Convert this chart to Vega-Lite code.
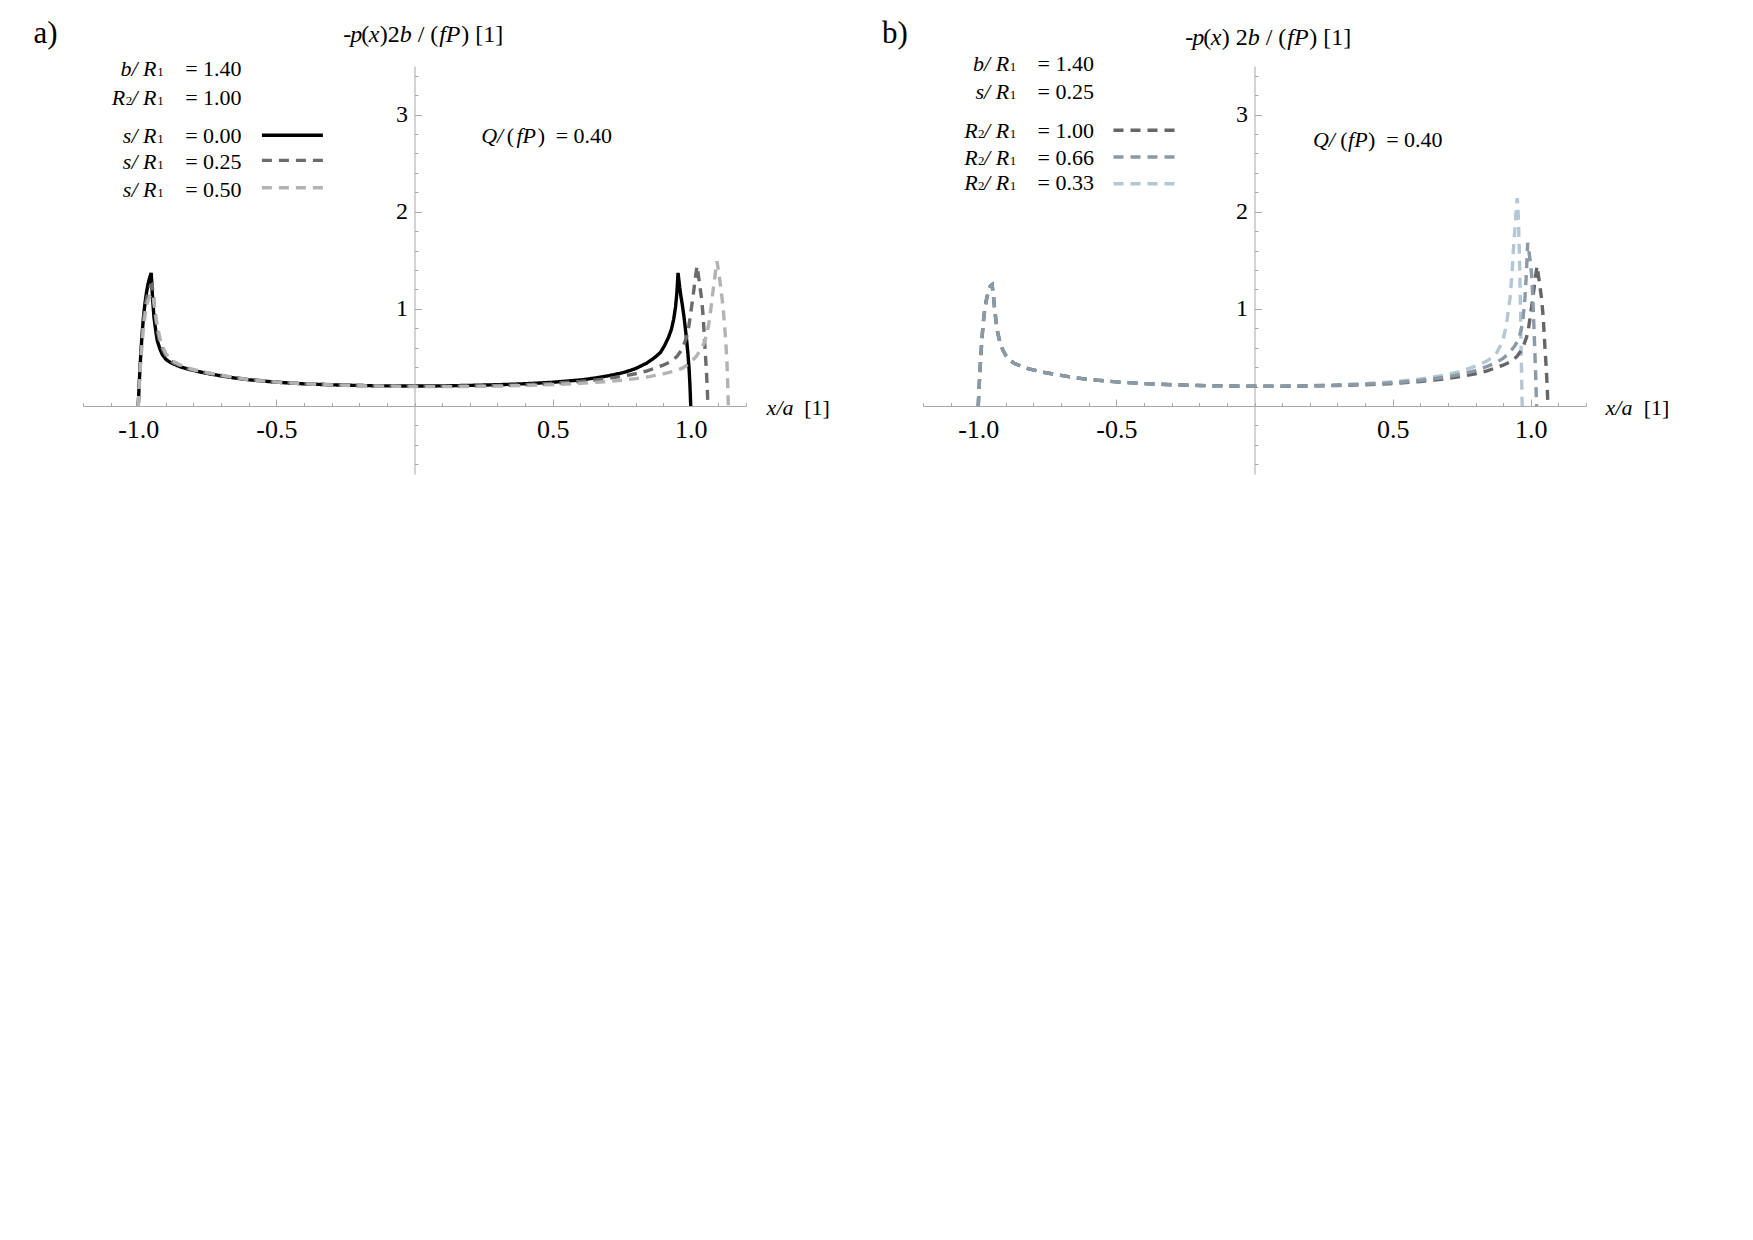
{
"$schema": "https://vega.github.io/schema/vega-lite/v6.json",
"background": "white",
"padding": {"left": 33, "top": 17, "right": 10, "bottom": 10},
"spacing": 177,
"bounds": "flush",
"resolve": {"scale": {"color": "independent", "strokeDash": "independent"}},
"config": {"view": {"stroke": null}, "font": "Liberation Serif", "axis": {"grid": false, "domainColor": "#a8a8a8", "tickColor": "#a8a8a8", "labelFont": "Liberation Serif", "labelColor": "#000000", "labelFontSize": 22, "title": null, "labelOverlap": false, "labelFlush": false}},
"hconcat": [
{
 "width": 663, "height": 408,
 "resolve": {"axis": {"x": "independent", "y": "independent"}},
 "layer": [
  {"data": {"values": [
{"s":"0.00","x":-1,"y":0},{"s":"0.00","x":-0.997,"y":0.2},{"s":"0.00","x":-0.993,"y":0.42},{"s":"0.00","x":-0.99,"y":0.57},{"s":"0.00","x":-0.985,"y":0.78},{"s":"0.00","x":-0.98,"y":0.95},{"s":"0.00","x":-0.975,"y":1.07},{"s":"0.00","x":-0.97,"y":1.17},{"s":"0.00","x":-0.965,"y":1.25},{"s":"0.00","x":-0.96,"y":1.31},{"s":"0.00","x":-0.953,"y":1.37},{"s":"0.00","x":-0.948,"y":1.1},{"s":"0.00","x":-0.943,"y":0.91},{"s":"0.00","x":-0.937,"y":0.78},{"s":"0.00","x":-0.931,"y":0.67},{"s":"0.00","x":-0.922,"y":0.59},{"s":"0.00","x":-0.913,"y":0.53},{"s":"0.00","x":-0.9,"y":0.48},{"s":"0.00","x":-0.885,"y":0.45},{"s":"0.00","x":-0.87,"y":0.43},{"s":"0.00","x":-0.845,"y":0.4},{"s":"0.00","x":-0.82,"y":0.38},{"s":"0.00","x":-0.79,"y":0.36},{"s":"0.00","x":-0.76,"y":0.34},{"s":"0.00","x":-0.7,"y":0.31},{"s":"0.00","x":-0.65,"y":0.288},{"s":"0.00","x":-0.6,"y":0.27},{"s":"0.00","x":-0.5,"y":0.245},{"s":"0.00","x":-0.4,"y":0.228},{"s":"0.00","x":-0.3,"y":0.218},{"s":"0.00","x":-0.2,"y":0.211},{"s":"0.00","x":-0.1,"y":0.207},{"s":"0.00","x":0,"y":0.205},{"s":"0.00","x":0.1,"y":0.207},{"s":"0.00","x":0.2,"y":0.212},{"s":"0.00","x":0.3,"y":0.219},{"s":"0.00","x":0.4,"y":0.229},{"s":"0.00","x":0.5,"y":0.244},{"s":"0.00","x":0.6,"y":0.268},{"s":"0.00","x":0.65,"y":0.286},{"s":"0.00","x":0.7,"y":0.31},{"s":"0.00","x":0.75,"y":0.34},{"s":"0.00","x":0.78,"y":0.365},{"s":"0.00","x":0.8,"y":0.385},{"s":"0.00","x":0.84,"y":0.44},{"s":"0.00","x":0.87,"y":0.5},{"s":"0.00","x":0.89,"y":0.55},{"s":"0.00","x":0.905,"y":0.62},{"s":"0.00","x":0.92,"y":0.71},{"s":"0.00","x":0.93,"y":0.79},{"s":"0.00","x":0.938,"y":0.89},{"s":"0.00","x":0.945,"y":1.02},{"s":"0.00","x":0.95,"y":1.17},{"s":"0.00","x":0.954,"y":1.37},{"s":"0.00","x":0.96,"y":1.22},{"s":"0.00","x":0.965,"y":1.12},{"s":"0.00","x":0.97,"y":1.03},{"s":"0.00","x":0.975,"y":0.93},{"s":"0.00","x":0.98,"y":0.81},{"s":"0.00","x":0.985,"y":0.68},{"s":"0.00","x":0.99,"y":0.53},{"s":"0.00","x":0.994,"y":0.38},{"s":"0.00","x":0.997,"y":0.22},{"s":"0.00","x":1,"y":0},
{"s":"0.25","x":-1,"y":0},{"s":"0.25","x":-0.997,"y":0.19},{"s":"0.25","x":-0.993,"y":0.4},{"s":"0.25","x":-0.99,"y":0.55},{"s":"0.25","x":-0.985,"y":0.75},{"s":"0.25","x":-0.98,"y":0.91},{"s":"0.25","x":-0.975,"y":1.02},{"s":"0.25","x":-0.97,"y":1.1},{"s":"0.25","x":-0.965,"y":1.16},{"s":"0.25","x":-0.96,"y":1.21},{"s":"0.25","x":-0.955,"y":1.24},{"s":"0.25","x":-0.95,"y":1.25},{"s":"0.25","x":-0.945,"y":1.13},{"s":"0.25","x":-0.94,"y":0.98},{"s":"0.25","x":-0.935,"y":0.86},{"s":"0.25","x":-0.93,"y":0.76},{"s":"0.25","x":-0.92,"y":0.64},{"s":"0.25","x":-0.91,"y":0.57},{"s":"0.25","x":-0.9,"y":0.52},{"s":"0.25","x":-0.885,"y":0.47},{"s":"0.25","x":-0.87,"y":0.44},{"s":"0.25","x":-0.845,"y":0.41},{"s":"0.25","x":-0.82,"y":0.385},{"s":"0.25","x":-0.79,"y":0.365},{"s":"0.25","x":-0.76,"y":0.345},{"s":"0.25","x":-0.7,"y":0.315},{"s":"0.25","x":-0.65,"y":0.292},{"s":"0.25","x":-0.6,"y":0.273},{"s":"0.25","x":-0.5,"y":0.248},{"s":"0.25","x":-0.4,"y":0.231},{"s":"0.25","x":-0.3,"y":0.219},{"s":"0.25","x":-0.2,"y":0.211},{"s":"0.25","x":-0.1,"y":0.206},{"s":"0.25","x":0,"y":0.203},{"s":"0.25","x":0.1,"y":0.203},{"s":"0.25","x":0.2,"y":0.206},{"s":"0.25","x":0.3,"y":0.211},{"s":"0.25","x":0.4,"y":0.219},{"s":"0.25","x":0.5,"y":0.232},{"s":"0.25","x":0.6,"y":0.252},{"s":"0.25","x":0.65,"y":0.266},{"s":"0.25","x":0.7,"y":0.283},{"s":"0.25","x":0.75,"y":0.305},{"s":"0.25","x":0.8,"y":0.332},{"s":"0.25","x":0.84,"y":0.36},{"s":"0.25","x":0.87,"y":0.39},{"s":"0.25","x":0.9,"y":0.42},{"s":"0.25","x":0.93,"y":0.46},{"s":"0.25","x":0.95,"y":0.51},{"s":"0.25","x":0.965,"y":0.57},{"s":"0.25","x":0.975,"y":0.63},{"s":"0.25","x":0.985,"y":0.71},{"s":"0.25","x":0.993,"y":0.82},{"s":"0.25","x":1,"y":0.96},{"s":"0.25","x":1.007,"y":1.1},{"s":"0.25","x":1.014,"y":1.26},{"s":"0.25","x":1.019,"y":1.37},{"s":"0.25","x":1.023,"y":1.44},{"s":"0.25","x":1.03,"y":1.3},{"s":"0.25","x":1.039,"y":1.11},{"s":"0.25","x":1.045,"y":0.92},{"s":"0.25","x":1.051,"y":0.62},{"s":"0.25","x":1.057,"y":0.35},{"s":"0.25","x":1.061,"y":0.1},{"s":"0.25","x":1.062,"y":0},
{"s":"0.50","x":-1,"y":0},{"s":"0.50","x":-0.997,"y":0.18},{"s":"0.50","x":-0.993,"y":0.37},{"s":"0.50","x":-0.99,"y":0.5},{"s":"0.50","x":-0.985,"y":0.68},{"s":"0.50","x":-0.98,"y":0.83},{"s":"0.50","x":-0.975,"y":0.94},{"s":"0.50","x":-0.97,"y":1.02},{"s":"0.50","x":-0.965,"y":1.08},{"s":"0.50","x":-0.958,"y":1.13},{"s":"0.50","x":-0.95,"y":1.16},{"s":"0.50","x":-0.945,"y":1.1},{"s":"0.50","x":-0.94,"y":1},{"s":"0.50","x":-0.935,"y":0.9},{"s":"0.50","x":-0.93,"y":0.81},{"s":"0.50","x":-0.92,"y":0.68},{"s":"0.50","x":-0.91,"y":0.6},{"s":"0.50","x":-0.9,"y":0.54},{"s":"0.50","x":-0.885,"y":0.49},{"s":"0.50","x":-0.87,"y":0.455},{"s":"0.50","x":-0.845,"y":0.42},{"s":"0.50","x":-0.82,"y":0.39},{"s":"0.50","x":-0.79,"y":0.368},{"s":"0.50","x":-0.76,"y":0.348},{"s":"0.50","x":-0.7,"y":0.316},{"s":"0.50","x":-0.65,"y":0.292},{"s":"0.50","x":-0.6,"y":0.272},{"s":"0.50","x":-0.5,"y":0.246},{"s":"0.50","x":-0.4,"y":0.229},{"s":"0.50","x":-0.3,"y":0.217},{"s":"0.50","x":-0.2,"y":0.209},{"s":"0.50","x":-0.1,"y":0.204},{"s":"0.50","x":0,"y":0.2},{"s":"0.50","x":0.1,"y":0.199},{"s":"0.50","x":0.2,"y":0.201},{"s":"0.50","x":0.3,"y":0.205},{"s":"0.50","x":0.4,"y":0.211},{"s":"0.50","x":0.5,"y":0.22},{"s":"0.50","x":0.6,"y":0.233},{"s":"0.50","x":0.7,"y":0.252},{"s":"0.50","x":0.75,"y":0.265},{"s":"0.50","x":0.8,"y":0.282},{"s":"0.50","x":0.85,"y":0.303},{"s":"0.50","x":0.9,"y":0.33},{"s":"0.50","x":0.936,"y":0.355},{"s":"0.50","x":0.97,"y":0.39},{"s":"0.50","x":0.996,"y":0.44},{"s":"0.50","x":1.02,"y":0.51},{"s":"0.50","x":1.04,"y":0.6},{"s":"0.50","x":1.05,"y":0.66},{"s":"0.50","x":1.058,"y":0.74},{"s":"0.50","x":1.065,"y":0.84},{"s":"0.50","x":1.07,"y":0.94},{"s":"0.50","x":1.075,"y":1.05},{"s":"0.50","x":1.08,"y":1.17},{"s":"0.50","x":1.085,"y":1.28},{"s":"0.50","x":1.09,"y":1.39},{"s":"0.50","x":1.095,"y":1.49},{"s":"0.50","x":1.1,"y":1.4},{"s":"0.50","x":1.105,"y":1.3},{"s":"0.50","x":1.11,"y":1.19},{"s":"0.50","x":1.117,"y":1.01},{"s":"0.50","x":1.122,"y":0.85},{"s":"0.50","x":1.127,"y":0.65},{"s":"0.50","x":1.131,"y":0.45},{"s":"0.50","x":1.134,"y":0.22},{"s":"0.50","x":1.136,"y":0}
  ]},
   "mark": {"type": "line", "strokeWidth": 3.4, "strokeCap": "butt"},
   "encoding": {
    "x": {"field": "x", "type": "quantitative", "scale": {"domain": [-1.2, 1.2], "nice": false, "zero": false},
          "axis": {"orient": "bottom", "offset": -68, "values": [-1, -0.5, 0.5, 1], "ticks": false, "tickSize": 0, "domain": false, "labelPadding": 10, "labelFontSize": 26, "labelExpr": "datum.value < 0 ? '-' + format(-datum.value, '.1f') + ' ' : format(datum.value, '.1f')"}},
    "y": {"field": "y", "type": "quantitative", "scale": {"domain": [-0.7, 3.5], "nice": false, "zero": false},
          "axis": {"orient": "left", "offset": -331.5, "values": [1, 2, 3], "ticks": false, "tickSize": 0, "domain": false, "labelPadding": 7, "labelFontSize": 24, "format": "d"}},
    "color": {"field": "s", "type": "nominal", "scale": {"domain": ["0.00", "0.25", "0.50"], "range": ["#000000", "#6b6b6b", "#b3b3b3"]}, "legend": null},
    "strokeDash": {"field": "s", "type": "nominal", "scale": {"domain": ["0.00", "0.25", "0.50"], "range": [[1, 0], [10, 7], [10, 7]]}, "legend": null}
   }},
  {"data": {"values": [
    {"s":"0.00","x":-0.5524,"x2":-0.3316,"y":2.787},
    {"s":"0.25","x":-0.5524,"x2":-0.3316,"y":2.529},
    {"s":"0.50","x":-0.5524,"x2":-0.3316,"y":2.247}]},
   "mark": {"type": "rule", "strokeWidth": 3.4, "strokeCap": "butt"},
   "encoding": {
    "x": {"field": "x", "type": "quantitative", "scale": {"domain": [-1.2, 1.2], "nice": false, "zero": false},
          "axis": {"orient": "bottom", "offset": -68, "values": [-1, -0.5, 0.5, 1], "tickSize": -7, "labels": false, "domain": false}},
    "x2": {"field": "x2"},
    "y": {"field": "y", "type": "quantitative", "scale": {"domain": [-0.7, 3.5], "nice": false, "zero": false},
          "axis": {"orient": "left", "offset": -331.5, "values": [1, 2, 3], "tickSize": -7, "labels": false, "domain": false}},
    "color": {"field": "s", "type": "nominal", "scale": {"domain": ["0.00", "0.25", "0.50"], "range": ["#000000", "#6b6b6b", "#b3b3b3"]}, "legend": null},
    "strokeDash": {"field": "s", "type": "nominal", "scale": {"domain": ["0.00", "0.25", "0.50"], "range": [[1, 0], [10, 7], [10, 7]]}, "legend": null}
   }},
  {"data": {"values": [
    {"t":"b/ R","x":-0.934,"y":3.397},
    {"t":"/ R","x":-0.934,"y":3.096},
    {"t":"R","x":-1.0473,"y":3.096},
    {"t":"s/ R","x":-0.934,"y":2.711},
    {"t":"s/ R","x":-0.934,"y":2.437},
    {"t":"s/ R","x":-0.934,"y":2.152},
    {"t":"Q/","x":0.3211,"y":2.711},
    {"t":"fP","x":0.44,"y":2.711},
    {"t":"x/a","x":1.372,"y":-0.09}]},
   "mark": {"type": "text", "font": "Liberation Serif", "fontStyle": "italic", "fontSize": 22, "align": "right", "baseline": "alphabetic", "color": "#000000"},
   "encoding": {
    "x": {"field": "x", "type": "quantitative", "scale": {"domain": [-1.2, 1.2], "nice": false, "zero": false},
          "axis": {"orient": "bottom", "offset": -68, "values": [-1.2,-1.1,-1,-0.9,-0.8,-0.7,-0.6,-0.5,-0.4,-0.3,-0.2,-0.1,0,0.1,0.2,0.3,0.4,0.5,0.6,0.7,0.8,0.9,1,1.1,1.2], "tickSize": -3.5, "labels": false, "domain": true}},
    "y": {"field": "y", "type": "quantitative", "scale": {"domain": [-0.7, 3.5], "nice": false, "zero": false},
          "axis": {"orient": "left", "offset": -331.5, "values": [-0.6,-0.4,-0.2,0,0.2,0.4,0.6,0.8,1,1.2,1.4,1.6,1.8,2,2.2,2.4,2.6,2.8,3,3.2,3.4], "tickSize": -3.5, "labels": false, "domain": true}},
    "text": {"field": "t"}
   }},
  {"data": {"values": [
    {"t":"= 1.40","x":-0.8301,"y":3.397},
    {"t":"= 1.00","x":-0.8301,"y":3.096},
    {"t":"= 0.00","x":-0.8301,"y":2.711},
    {"t":"= 0.25","x":-0.8301,"y":2.437},
    {"t":"= 0.50","x":-0.8301,"y":2.152},
    {"t":"(","x":0.3338,"y":2.711},
    {"t":")","x":0.446,"y":2.711},
    {"t":"= 0.40","x":0.5111,"y":2.711},
    {"t":"[1]","x":1.4105,"y":-0.09}]},
   "mark": {"type": "text", "font": "Liberation Serif", "fontSize": 22, "align": "left", "baseline": "alphabetic", "color": "#000000"},
   "encoding": {
    "x": {"field": "x", "type": "quantitative", "scale": {"domain": [-1.2, 1.2], "nice": false, "zero": false}, "axis": null},
    "y": {"field": "y", "type": "quantitative", "scale": {"domain": [-0.7, 3.5], "nice": false, "zero": false}, "axis": null},
    "text": {"field": "t"}
   }},
  {"data": {"values": [
    {"t":"1","x":-0.931,"y":3.397},
    {"t":"1","x":-0.931,"y":3.096},
    {"t":"2","x":-1.0455,"y":3.096},
    {"t":"1","x":-0.931,"y":2.711},
    {"t":"1","x":-0.931,"y":2.437},
    {"t":"1","x":-0.931,"y":2.152}]},
   "mark": {"type": "text", "font": "Liberation Serif", "fontSize": 13, "align": "left", "baseline": "alphabetic", "color": "#000000"},
   "encoding": {
    "x": {"field": "x", "type": "quantitative", "scale": {"domain": [-1.2, 1.2], "nice": false, "zero": false}, "axis": null},
    "y": {"field": "y", "type": "quantitative", "scale": {"domain": [-0.7, 3.5], "nice": false, "zero": false}, "axis": null},
    "text": {"field": "t"}
   }},
  {"data": {"values": [
    {"t":"p","x":-0.2328,"y":3.752},
    {"t":"x","x":-0.1658,"y":3.752},
    {"t":"b","x":-0.0536,"y":3.752},
    {"t":"fP","x":0.0894,"y":3.752}]},
   "mark": {"type": "text", "font": "Liberation Serif", "fontStyle": "italic", "fontSize": 24, "align": "left", "baseline": "alphabetic", "color": "#000000"},
   "encoding": {
    "x": {"field": "x", "type": "quantitative", "scale": {"domain": [-1.2, 1.2], "nice": false, "zero": false}, "axis": null},
    "y": {"field": "y", "type": "quantitative", "scale": {"domain": [-0.7, 3.5], "nice": false, "zero": false}, "axis": null},
    "text": {"field": "t"}
   }},
  {"data": {"values": [
    {"t":"-","x":-0.2581,"y":3.752},
    {"t":"(","x":-0.1929,"y":3.752},
    {"t":")2","x":-0.126,"y":3.752},
    {"t":"/ (","x":0.0116,"y":3.752},
    {"t":") [1]","x":0.169,"y":3.752}]},
   "mark": {"type": "text", "font": "Liberation Serif", "fontSize": 24, "align": "left", "baseline": "alphabetic", "color": "#000000"},
   "encoding": {
    "x": {"field": "x", "type": "quantitative", "scale": {"domain": [-1.2, 1.2], "nice": false, "zero": false}, "axis": null},
    "y": {"field": "y", "type": "quantitative", "scale": {"domain": [-0.7, 3.5], "nice": false, "zero": false}, "axis": null},
    "text": {"field": "t"}
   }},
  {"data": {"values": [{"t":"a)","x":-1.3792,"y":3.74}]},
   "mark": {"type": "text", "font": "Liberation Serif", "fontSize": 31, "align": "left", "baseline": "alphabetic", "color": "#000000"},
   "encoding": {
    "x": {"field": "x", "type": "quantitative", "scale": {"domain": [-1.2, 1.2], "nice": false, "zero": false}, "axis": null},
    "y": {"field": "y", "type": "quantitative", "scale": {"domain": [-0.7, 3.5], "nice": false, "zero": false}, "axis": null},
    "text": {"field": "t"}
   }}
 ]
},
{
 "width": 663, "height": 408,
 "resolve": {"axis": {"x": "independent", "y": "independent"}},
 "layer": [
  {"data": {"values": [
{"s":"0.33","x":-1,"y":0},{"s":"0.33","x":-0.997,"y":0.19},{"s":"0.33","x":-0.993,"y":0.4},{"s":"0.33","x":-0.99,"y":0.55},{"s":"0.33","x":-0.985,"y":0.75},{"s":"0.33","x":-0.98,"y":0.91},{"s":"0.33","x":-0.975,"y":1.02},{"s":"0.33","x":-0.97,"y":1.1},{"s":"0.33","x":-0.965,"y":1.16},{"s":"0.33","x":-0.96,"y":1.21},{"s":"0.33","x":-0.955,"y":1.24},{"s":"0.33","x":-0.95,"y":1.25},{"s":"0.33","x":-0.945,"y":1.13},{"s":"0.33","x":-0.94,"y":0.98},{"s":"0.33","x":-0.935,"y":0.86},{"s":"0.33","x":-0.93,"y":0.76},{"s":"0.33","x":-0.92,"y":0.64},{"s":"0.33","x":-0.91,"y":0.57},{"s":"0.33","x":-0.9,"y":0.52},{"s":"0.33","x":-0.885,"y":0.47},{"s":"0.33","x":-0.87,"y":0.44},{"s":"0.33","x":-0.845,"y":0.41},{"s":"0.33","x":-0.82,"y":0.385},{"s":"0.33","x":-0.79,"y":0.365},{"s":"0.33","x":-0.76,"y":0.345},{"s":"0.33","x":-0.7,"y":0.315},{"s":"0.33","x":-0.65,"y":0.292},{"s":"0.33","x":-0.6,"y":0.273},{"s":"0.33","x":-0.5,"y":0.248},{"s":"0.33","x":-0.4,"y":0.231},{"s":"0.33","x":-0.3,"y":0.219},{"s":"0.33","x":-0.2,"y":0.211},{"s":"0.33","x":-0.1,"y":0.206},{"s":"0.33","x":0,"y":0.204},{"s":"0.33","x":0.1,"y":0.205},{"s":"0.33","x":0.2,"y":0.21},{"s":"0.33","x":0.3,"y":0.218},{"s":"0.33","x":0.4,"y":0.23},{"s":"0.33","x":0.5,"y":0.248},{"s":"0.33","x":0.6,"y":0.278},{"s":"0.33","x":0.65,"y":0.3},{"s":"0.33","x":0.7,"y":0.325},{"s":"0.33","x":0.75,"y":0.36},{"s":"0.33","x":0.8,"y":0.41},{"s":"0.33","x":0.84,"y":0.46},{"s":"0.33","x":0.86,"y":0.5},{"s":"0.33","x":0.877,"y":0.55},{"s":"0.33","x":0.89,"y":0.62},{"s":"0.33","x":0.9,"y":0.69},{"s":"0.33","x":0.907,"y":0.77},{"s":"0.33","x":0.915,"y":0.9},{"s":"0.33","x":0.925,"y":1.11},{"s":"0.33","x":0.932,"y":1.35},{"s":"0.33","x":0.937,"y":1.6},{"s":"0.33","x":0.942,"y":1.8},{"s":"0.33","x":0.947,"y":2},{"s":"0.33","x":0.951,"y":2.14},{"s":"0.33","x":0.955,"y":1.95},{"s":"0.33","x":0.958,"y":1.65},{"s":"0.33","x":0.961,"y":1.3},{"s":"0.33","x":0.963,"y":0.95},{"s":"0.33","x":0.965,"y":0.6},{"s":"0.33","x":0.967,"y":0.3},{"s":"0.33","x":0.969,"y":0},
{"s":"1.00","x":-1,"y":0},{"s":"1.00","x":-0.997,"y":0.19},{"s":"1.00","x":-0.993,"y":0.4},{"s":"1.00","x":-0.99,"y":0.55},{"s":"1.00","x":-0.985,"y":0.75},{"s":"1.00","x":-0.98,"y":0.91},{"s":"1.00","x":-0.975,"y":1.02},{"s":"1.00","x":-0.97,"y":1.1},{"s":"1.00","x":-0.965,"y":1.16},{"s":"1.00","x":-0.96,"y":1.21},{"s":"1.00","x":-0.955,"y":1.24},{"s":"1.00","x":-0.95,"y":1.25},{"s":"1.00","x":-0.945,"y":1.13},{"s":"1.00","x":-0.94,"y":0.98},{"s":"1.00","x":-0.935,"y":0.86},{"s":"1.00","x":-0.93,"y":0.76},{"s":"1.00","x":-0.92,"y":0.64},{"s":"1.00","x":-0.91,"y":0.57},{"s":"1.00","x":-0.9,"y":0.52},{"s":"1.00","x":-0.885,"y":0.47},{"s":"1.00","x":-0.87,"y":0.44},{"s":"1.00","x":-0.845,"y":0.41},{"s":"1.00","x":-0.82,"y":0.385},{"s":"1.00","x":-0.79,"y":0.365},{"s":"1.00","x":-0.76,"y":0.345},{"s":"1.00","x":-0.7,"y":0.315},{"s":"1.00","x":-0.65,"y":0.292},{"s":"1.00","x":-0.6,"y":0.273},{"s":"1.00","x":-0.5,"y":0.248},{"s":"1.00","x":-0.4,"y":0.231},{"s":"1.00","x":-0.3,"y":0.219},{"s":"1.00","x":-0.2,"y":0.211},{"s":"1.00","x":-0.1,"y":0.206},{"s":"1.00","x":0,"y":0.203},{"s":"1.00","x":0.1,"y":0.203},{"s":"1.00","x":0.2,"y":0.206},{"s":"1.00","x":0.3,"y":0.211},{"s":"1.00","x":0.4,"y":0.219},{"s":"1.00","x":0.5,"y":0.232},{"s":"1.00","x":0.6,"y":0.252},{"s":"1.00","x":0.65,"y":0.266},{"s":"1.00","x":0.7,"y":0.283},{"s":"1.00","x":0.75,"y":0.305},{"s":"1.00","x":0.8,"y":0.332},{"s":"1.00","x":0.84,"y":0.36},{"s":"1.00","x":0.87,"y":0.39},{"s":"1.00","x":0.9,"y":0.42},{"s":"1.00","x":0.93,"y":0.46},{"s":"1.00","x":0.95,"y":0.51},{"s":"1.00","x":0.965,"y":0.57},{"s":"1.00","x":0.975,"y":0.63},{"s":"1.00","x":0.985,"y":0.71},{"s":"1.00","x":0.993,"y":0.82},{"s":"1.00","x":1,"y":0.96},{"s":"1.00","x":1.007,"y":1.1},{"s":"1.00","x":1.014,"y":1.26},{"s":"1.00","x":1.019,"y":1.37},{"s":"1.00","x":1.023,"y":1.44},{"s":"1.00","x":1.03,"y":1.3},{"s":"1.00","x":1.039,"y":1.11},{"s":"1.00","x":1.045,"y":0.92},{"s":"1.00","x":1.051,"y":0.62},{"s":"1.00","x":1.057,"y":0.35},{"s":"1.00","x":1.061,"y":0.1},{"s":"1.00","x":1.062,"y":0},
{"s":"0.66","x":-1,"y":0},{"s":"0.66","x":-0.997,"y":0.19},{"s":"0.66","x":-0.993,"y":0.4},{"s":"0.66","x":-0.99,"y":0.55},{"s":"0.66","x":-0.985,"y":0.75},{"s":"0.66","x":-0.98,"y":0.91},{"s":"0.66","x":-0.975,"y":1.02},{"s":"0.66","x":-0.97,"y":1.1},{"s":"0.66","x":-0.965,"y":1.16},{"s":"0.66","x":-0.96,"y":1.21},{"s":"0.66","x":-0.955,"y":1.24},{"s":"0.66","x":-0.95,"y":1.25},{"s":"0.66","x":-0.945,"y":1.13},{"s":"0.66","x":-0.94,"y":0.98},{"s":"0.66","x":-0.935,"y":0.86},{"s":"0.66","x":-0.93,"y":0.76},{"s":"0.66","x":-0.92,"y":0.64},{"s":"0.66","x":-0.91,"y":0.57},{"s":"0.66","x":-0.9,"y":0.52},{"s":"0.66","x":-0.885,"y":0.47},{"s":"0.66","x":-0.87,"y":0.44},{"s":"0.66","x":-0.845,"y":0.41},{"s":"0.66","x":-0.82,"y":0.385},{"s":"0.66","x":-0.79,"y":0.365},{"s":"0.66","x":-0.76,"y":0.345},{"s":"0.66","x":-0.7,"y":0.315},{"s":"0.66","x":-0.65,"y":0.292},{"s":"0.66","x":-0.6,"y":0.273},{"s":"0.66","x":-0.5,"y":0.248},{"s":"0.66","x":-0.4,"y":0.231},{"s":"0.66","x":-0.3,"y":0.219},{"s":"0.66","x":-0.2,"y":0.211},{"s":"0.66","x":-0.1,"y":0.206},{"s":"0.66","x":0,"y":0.203},{"s":"0.66","x":0.1,"y":0.204},{"s":"0.66","x":0.2,"y":0.208},{"s":"0.66","x":0.3,"y":0.214},{"s":"0.66","x":0.4,"y":0.224},{"s":"0.66","x":0.5,"y":0.238},{"s":"0.66","x":0.6,"y":0.262},{"s":"0.66","x":0.65,"y":0.28},{"s":"0.66","x":0.7,"y":0.3},{"s":"0.66","x":0.75,"y":0.328},{"s":"0.66","x":0.8,"y":0.365},{"s":"0.66","x":0.84,"y":0.405},{"s":"0.66","x":0.87,"y":0.44},{"s":"0.66","x":0.9,"y":0.49},{"s":"0.66","x":0.92,"y":0.54},{"s":"0.66","x":0.94,"y":0.61},{"s":"0.66","x":0.955,"y":0.68},{"s":"0.66","x":0.965,"y":0.78},{"s":"0.66","x":0.972,"y":0.9},{"s":"0.66","x":0.979,"y":1.11},{"s":"0.66","x":0.984,"y":1.35},{"s":"0.66","x":0.989,"y":1.68},{"s":"0.66","x":0.994,"y":1.58},{"s":"0.66","x":0.999,"y":1.47},{"s":"0.66","x":1.003,"y":1.36},{"s":"0.66","x":1.007,"y":1.15},{"s":"0.66","x":1.011,"y":0.85},{"s":"0.66","x":1.015,"y":0.55},{"s":"0.66","x":1.018,"y":0.3},{"s":"0.66","x":1.021,"y":0}
  ]},
   "mark": {"type": "line", "strokeWidth": 3.4, "strokeCap": "butt"},
   "encoding": {
    "x": {"field": "x", "type": "quantitative", "scale": {"domain": [-1.2, 1.2], "nice": false, "zero": false},
          "axis": {"orient": "bottom", "offset": -68, "values": [-1, -0.5, 0.5, 1], "ticks": false, "tickSize": 0, "domain": false, "labelPadding": 10, "labelFontSize": 26, "labelExpr": "datum.value < 0 ? '-' + format(-datum.value, '.1f') + ' ' : format(datum.value, '.1f')"}},
    "y": {"field": "y", "type": "quantitative", "scale": {"domain": [-0.7, 3.5], "nice": false, "zero": false},
          "axis": {"orient": "left", "offset": -331.5, "values": [1, 2, 3], "ticks": false, "tickSize": 0, "domain": false, "labelPadding": 7, "labelFontSize": 24, "format": "d"}},
    "color": {"field": "s", "type": "nominal", "scale": {"domain": ["1.00", "0.66", "0.33"], "range": ["#666666", "#8a9aa6", "#b3c7d4"]}, "legend": null},
    "strokeDash": {"field": "s", "type": "nominal", "scale": {"domain": ["1.00", "0.66", "0.33"], "range": [[10, 7], [10, 7], [10, 7]]}, "legend": null}
   }},
  {"data": {"values": [
    {"s":"1.00","x":-0.5104,"x2":-0.2871,"y":2.838},
    {"s":"0.66","x":-0.5104,"x2":-0.2871,"y":2.563},
    {"s":"0.33","x":-0.5104,"x2":-0.2871,"y":2.288}]},
   "mark": {"type": "rule", "strokeWidth": 3.4, "strokeCap": "butt"},
   "encoding": {
    "x": {"field": "x", "type": "quantitative", "scale": {"domain": [-1.2, 1.2], "nice": false, "zero": false},
          "axis": {"orient": "bottom", "offset": -68, "values": [-1, -0.5, 0.5, 1], "tickSize": -7, "labels": false, "domain": false}},
    "x2": {"field": "x2"},
    "y": {"field": "y", "type": "quantitative", "scale": {"domain": [-0.7, 3.5], "nice": false, "zero": false},
          "axis": {"orient": "left", "offset": -331.5, "values": [1, 2, 3], "tickSize": -7, "labels": false, "domain": false}},
    "color": {"field": "s", "type": "nominal", "scale": {"domain": ["1.00", "0.66", "0.33"], "range": ["#666666", "#8a9aa6", "#b3c7d4"]}, "legend": null},
    "strokeDash": {"field": "s", "type": "nominal", "scale": {"domain": ["1.00", "0.66", "0.33"], "range": [[10, 7], [10, 7], [10, 7]]}, "legend": null}
   }},
  {"data": {"values": [
    {"t":"b/ R","x":-0.8883,"y":3.449},
    {"t":"s/ R","x":-0.8883,"y":3.157},
    {"t":"/ R","x":-0.8883,"y":2.762},
    {"t":"R","x":-1.0024,"y":2.762},
    {"t":"/ R","x":-0.8883,"y":2.478},
    {"t":"R","x":-1.0024,"y":2.478},
    {"t":"/ R","x":-0.8883,"y":2.221},
    {"t":"R","x":-1.0024,"y":2.221},
    {"t":"Q/","x":0.291,"y":2.666},
    {"t":"fP","x":0.4097,"y":2.666},
    {"t":"x/a","x":1.3683,"y":-0.09}]},
   "mark": {"type": "text", "font": "Liberation Serif", "fontStyle": "italic", "fontSize": 22, "align": "right", "baseline": "alphabetic", "color": "#000000"},
   "encoding": {
    "x": {"field": "x", "type": "quantitative", "scale": {"domain": [-1.2, 1.2], "nice": false, "zero": false},
          "axis": {"orient": "bottom", "offset": -68, "values": [-1.2,-1.1,-1,-0.9,-0.8,-0.7,-0.6,-0.5,-0.4,-0.3,-0.2,-0.1,0,0.1,0.2,0.3,0.4,0.5,0.6,0.7,0.8,0.9,1,1.1,1.2], "tickSize": -3.5, "labels": false, "domain": true}},
    "y": {"field": "y", "type": "quantitative", "scale": {"domain": [-0.7, 3.5], "nice": false, "zero": false},
          "axis": {"orient": "left", "offset": -331.5, "values": [-0.6,-0.4,-0.2,0,0.2,0.4,0.6,0.8,1,1.2,1.4,1.6,1.8,2,2.2,2.4,2.6,2.8,3,3.2,3.4], "tickSize": -3.5, "labels": false, "domain": true}},
    "text": {"field": "t"}
   }},
  {"data": {"values": [
    {"t":"= 1.40","x":-0.7852,"y":3.449},
    {"t":"= 0.25","x":-0.7852,"y":3.157},
    {"t":"= 1.00","x":-0.7852,"y":2.762},
    {"t":"= 0.66","x":-0.7852,"y":2.478},
    {"t":"= 0.33","x":-0.7852,"y":2.221},
    {"t":"(","x":0.3105,"y":2.666},
    {"t":")","x":0.4106,"y":2.666},
    {"t":"= 0.40","x":0.4768,"y":2.666},
    {"t":"[1]","x":1.409,"y":-0.09}]},
   "mark": {"type": "text", "font": "Liberation Serif", "fontSize": 22, "align": "left", "baseline": "alphabetic", "color": "#000000"},
   "encoding": {
    "x": {"field": "x", "type": "quantitative", "scale": {"domain": [-1.2, 1.2], "nice": false, "zero": false}, "axis": null},
    "y": {"field": "y", "type": "quantitative", "scale": {"domain": [-0.7, 3.5], "nice": false, "zero": false}, "axis": null},
    "text": {"field": "t"}
   }},
  {"data": {"values": [
    {"t":"1","x":-0.886,"y":3.449},
    {"t":"1","x":-0.886,"y":3.157},
    {"t":"1","x":-0.886,"y":2.762},
    {"t":"2","x":-1.0006,"y":2.762},
    {"t":"1","x":-0.886,"y":2.478},
    {"t":"2","x":-1.0006,"y":2.478},
    {"t":"1","x":-0.886,"y":2.221},
    {"t":"2","x":-1.0006,"y":2.221}]},
   "mark": {"type": "text", "font": "Liberation Serif", "fontSize": 13, "align": "left", "baseline": "alphabetic", "color": "#000000"},
   "encoding": {
    "x": {"field": "x", "type": "quantitative", "scale": {"domain": [-1.2, 1.2], "nice": false, "zero": false}, "axis": null},
    "y": {"field": "y", "type": "quantitative", "scale": {"domain": [-0.7, 3.5], "nice": false, "zero": false}, "axis": null},
    "text": {"field": "t"}
   }},
  {"data": {"values": [
    {"t":"p","x":-0.2255,"y":3.72},
    {"t":"x","x":-0.1586,"y":3.72},
    {"t":"b","x":-0.0246,"y":3.72},
    {"t":"fP","x":0.1184,"y":3.72}]},
   "mark": {"type": "text", "font": "Liberation Serif", "fontStyle": "italic", "fontSize": 24, "align": "left", "baseline": "alphabetic", "color": "#000000"},
   "encoding": {
    "x": {"field": "x", "type": "quantitative", "scale": {"domain": [-1.2, 1.2], "nice": false, "zero": false}, "axis": null},
    "y": {"field": "y", "type": "quantitative", "scale": {"domain": [-0.7, 3.5], "nice": false, "zero": false}, "axis": null},
    "text": {"field": "t"}
   }},
  {"data": {"values": [
    {"t":"-","x":-0.2509,"y":3.72},
    {"t":"(","x":-0.1857,"y":3.72},
    {"t":") 2","x":-0.1187,"y":3.72},
    {"t":"/ (","x":0.0405,"y":3.72},
    {"t":") [1]","x":0.198,"y":3.72}]},
   "mark": {"type": "text", "font": "Liberation Serif", "fontSize": 24, "align": "left", "baseline": "alphabetic", "color": "#000000"},
   "encoding": {
    "x": {"field": "x", "type": "quantitative", "scale": {"domain": [-1.2, 1.2], "nice": false, "zero": false}, "axis": null},
    "y": {"field": "y", "type": "quantitative", "scale": {"domain": [-0.7, 3.5], "nice": false, "zero": false}, "axis": null},
    "text": {"field": "t"}
   }},
  {"data": {"values": [{"t":"b)","x":-1.3488,"y":3.74}]},
   "mark": {"type": "text", "font": "Liberation Serif", "fontSize": 31, "align": "left", "baseline": "alphabetic", "color": "#000000"},
   "encoding": {
    "x": {"field": "x", "type": "quantitative", "scale": {"domain": [-1.2, 1.2], "nice": false, "zero": false}, "axis": null},
    "y": {"field": "y", "type": "quantitative", "scale": {"domain": [-0.7, 3.5], "nice": false, "zero": false}, "axis": null},
    "text": {"field": "t"}
   }}
 ]
}
]
}
